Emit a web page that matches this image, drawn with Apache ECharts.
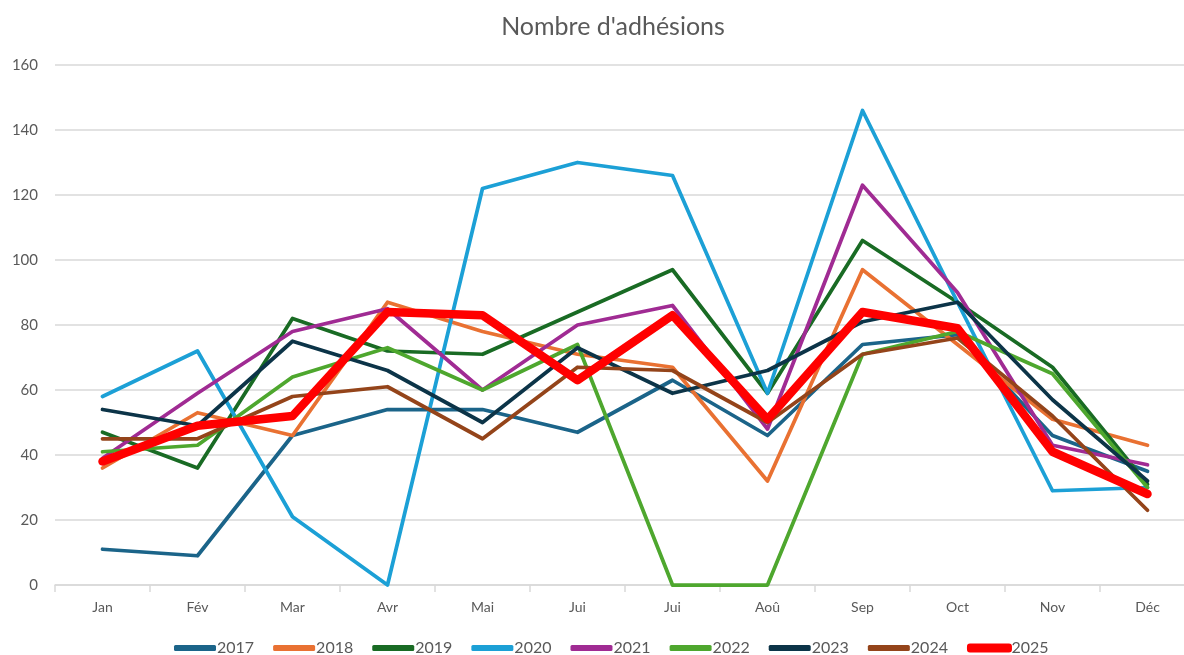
<!DOCTYPE html>
<html>
<head>
<meta charset="utf-8">
<script src="https://cdn.jsdelivr.net/npm/echarts@6/dist/echarts.min.js"></script>
<style>
  html, body { margin: 0; padding: 0; background: #fff; }
  #chart { width: 1184px; height: 655px; }
</style>
</head>
<body>
<div id="chart"></div>
<script>
const mois = ["Jan", "Fév", "Mar", "Avr", "Mai", "Jui", "Jui", "Aoû", "Sep", "Oct", "Nov", "Déc"];
const yTicks = [0, 20, 40, 60, 80, 100, 120, 140, 160];

const a2017 = [11, 9, 46, 54, 54, 47, 63, 46, 74, 77, 46, 35];
const a2018 = [36, 53, 46, 87, 78, 71, 67, 32, 97, 74, 51, 43];
const a2019 = [47, 36, 82, 72, 71, 84, 97, 59, 106, 87, 67, 31];
const a2020 = [58, 72, 21, 0, 122, 130, 126, 59, 146, 87, 29, 30];
const a2021 = [39, 59, 78, 85, 60, 80, 86, 48, 123, 90, 43, 37];
const a2022 = [41, 43, 64, 73, 60, 74, 0, 0, 71, 78, 65, 30];
const a2023 = [54, 49, 75, 66, 50, 73, 59, 66, 81, 87, 57, 32];
const a2024 = [45, 45, 58, 61, 45, 67, 66, 50, 71, 76, 52, 23];
const a2025 = [38, 49, 52, 84, 83, 63, 83, 51, 84, 79, 41, 28];

const annees = [
  { name: "2017", data: a2017, color: "#1b6489" },
  { name: "2018", data: a2018, color: "#e97132" },
  { name: "2019", data: a2019, color: "#196b24" },
  { name: "2020", data: a2020, color: "#1ca0d6" },
  { name: "2021", data: a2021, color: "#a02b93" },
  { name: "2022", data: a2022, color: "#4ea72e" },
  { name: "2023", data: a2023, color: "#0c3448" },
  { name: "2024", data: a2024, color: "#94441a" },
  { name: "2025", data: a2025, color: "#ff0000", large: true },
];

const police = "Lato, 'Open Sans', sans-serif";
const gris = "#595959";

let series = annees.map((a) => ({
  name: a.name,
  type: "line",
  symbol: "none",
  data: a.data,
  color: a.color,
  lineStyle: {
    width: a.large ? 8.5 : 3.75,
    cap: "round",
    join: "round",
  },
}));

let options = {
  animation: false,
  title: {
    text: "Nombre d'adhésions",
    left: 608,
    textAlign: "center",
    top: 9,
    textStyle: {
      fontFamily: police,
      fontSize: 25,
      fontWeight: "normal",
      color: gris,
    },
  },
  grid: {
    top: 65,
    left: 55,
    width: 1140,
    bottom: 70,
    outerBoundsMode: "none",
    containLabel: false,
  },
  xAxis: {
    type: "category",
    data: mois,
    boundaryGap: true,
    axisLine: { lineStyle: { color: "#d9d9d9", width: 1.5 } },
    axisTick: { show: true, length: 7, lineStyle: { color: "#d9d9d9", width: 1.5 } },
    axisLabel: {
      color: gris,
      fontFamily: police,
      fontSize: 14,
      margin: 15,
    },
  },
  yAxis: {
    type: "value",
    min: yTicks[0],
    max: yTicks[yTicks.length - 1],
    interval: 20,
    axisLine: { show: false },
    axisTick: { show: false },
    axisLabel: {
      color: gris,
      fontFamily: police,
      fontSize: 15,
      margin: 17,
    },
    splitLine: { lineStyle: { color: "#d9d9d9", width: 1.5 } },
  },
  legend: {
    top: 640,
    left: 174,
    padding: 0,
    itemWidth: 42,
    itemHeight: 6,
    itemGap: 19,
    icon: "roundRect",
    textStyle: {
      color: gris,
      fontFamily: police,
      fontSize: 16,
      padding: [0, 0, 0, -4],
    },
    data: annees.map((a) =>
      a.large
        ? { name: a.name, itemStyle: { borderColor: a.color, borderWidth: 3 } }
        : { name: a.name }
    ),
  },
  series,
};

var chart = echarts.init(document.getElementById("chart"), null, { renderer: "canvas" });
chart.setOption(options);
window.addEventListener("resize", function () {
  chart.resize();
});
</script>
</body>
</html>
